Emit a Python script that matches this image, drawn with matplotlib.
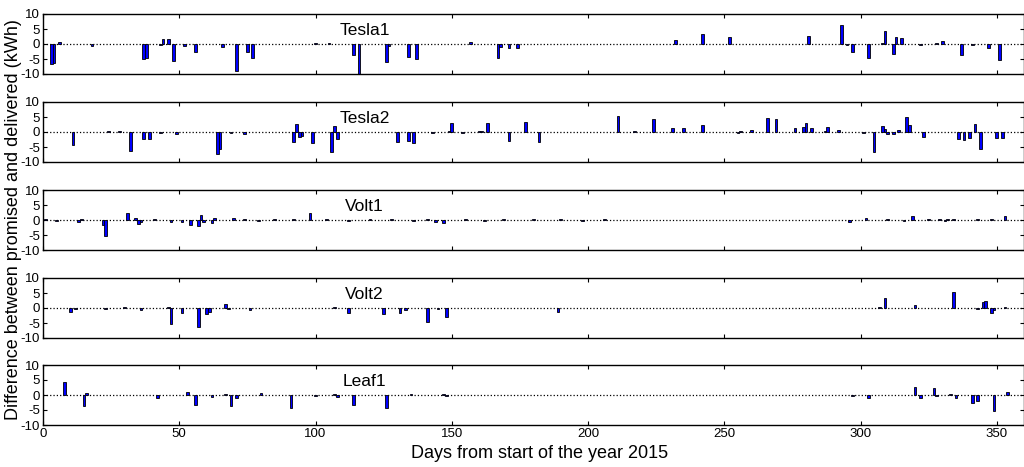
import matplotlib
matplotlib.use('Agg')
import matplotlib.pyplot as plt

plt.rcParams['font.family'] = ['Liberation Sans', 'DejaVu Sans']
plt.rcParams['axes.unicode_minus'] = False

# ---- data (day of year, kWh difference) ----
tesla1_days = [3, 4, 6, 18, 37, 38, 43, 44, 46, 48, 52, 56, 66, 71, 75, 77, 100, 105,
               114, 116, 126, 127, 134, 137, 157, 167, 168, 171, 174,
               232, 242, 252, 281, 293, 295, 297, 303, 308, 309, 312, 313, 315,
               322, 328, 330, 337, 341, 347, 351]
tesla1_vals = [-6.8, -6.2, 0.6, -0.7, -5.0, -4.5, -0.3, 1.6, 1.6, -5.5, -0.6, -2.7, -1.0,
               -9.0, -2.8, -4.5, 0.2, 0.2, -3.5, -11.0, -6.0, -0.8, -4.4, -5.0, 0.7,
               -4.5, -1.0, -1.3, -1.3, 1.5, 3.5, 2.5, 2.8, 6.4, -0.3, -2.5, -4.7, 0.2,
               4.5, -3.3, 2.2, 2.0, -0.2, 0.2, 1.0, -3.7, -0.2, -1.2, -5.2]

tesla2_days = [11, 24, 28, 32, 37, 39, 43, 49, 64, 65, 69, 74, 92, 93, 94, 95, 99,
               106, 107, 108, 130, 134, 136, 143, 149, 150, 154, 160, 161, 163, 171,
               177, 182, 211, 217, 224, 231, 235, 242, 255, 256, 260, 266, 269, 276,
               279, 280, 282, 287, 288, 292, 301, 305, 308, 309, 310, 312, 314, 317,
               318, 323, 336, 338, 340, 342, 344, 350, 352]
tesla2_vals = [-4.2, 0.5, 0.5, -6.3, -2.3, -2.3, -0.2, -0.7, -7.3, -5.5, -0.2, -0.6,
               -3.2, 2.8, -1.8, -1.4, -3.8, -6.5, 2.0, -2.2, -3.4, -3.0, -3.8, -0.2,
               0.3, 3.0, -0.4, 0.4, 0.4, 3.0, -3.0, 3.5, -3.3, 5.2, 0.5, 4.2, 1.4,
               1.4, 2.3, -0.4, 0.3, 0.8, 4.8, 4.5, 1.4, 1.8, 3.0, 1.4, 0.4, 1.7, 0.8,
               -0.2, -6.5, 2.0, 1.0, -0.6, -0.6, 0.6, 5.0, 2.3, -1.8, -2.3, -2.5,
               -1.9, 2.8, -5.5, -2.0, -2.0]

volt1_days = [1, 5, 13, 14, 22, 23, 31, 34, 35, 36, 41, 47, 51, 54, 57, 58, 59, 62,
              63, 70, 74, 79, 85, 92, 98, 104, 112, 120, 128, 136, 141, 144, 147, 155,
              162, 169, 180, 190, 198, 206, 296, 302, 310, 316, 319, 325, 329, 331,
              332, 334, 343, 348, 353]
volt1_vals = [0.3, -0.2, -0.6, 0.5, -1.5, -5.2, 2.2, 0.6, -1.2, -0.7, 0.2, -0.5, -0.5,
              -1.5, -2.0, 1.7, -0.6, -1.0, 0.6, 0.8, 0.2, -0.3, 0.2, 0.2, 2.3, 0.2,
              -0.2, 0.2, 0.2, -0.2, 0.3, -0.6, -1.0, 0.2, -0.2, 0.4, 0.2, 0.2, -0.2,
              0.2, -0.8, 0.7, 0.2, -0.2, 1.3, 0.2, 0.5, -0.3, 0.3, 0.5, 0.2, 0.2, 1.4]

volt2_days = [10, 12, 23, 30, 36, 46, 47, 51, 57, 60, 61, 67, 68, 76, 107, 112, 125,
              131, 133, 141, 145, 148, 189, 307, 309, 320, 334, 343, 345, 346, 348,
              349, 353]
volt2_vals = [-1.2, -0.3, -0.3, 0.3, -0.8, 0.2, -5.3, -1.6, -6.2, -2.0, -1.4, 1.5,
              -0.3, -0.8, 0.5, -1.8, -2.0, -1.7, -0.6, -4.8, -0.3, -3.0, -1.3, 0.3,
              3.2, 1.0, 5.2, -0.3, 2.0, 2.4, -1.6, -0.8, 0.4]

leaf1_days = [8, 15, 16, 42, 53, 56, 62, 67, 69, 71, 80, 91, 100, 107, 108, 114, 126,
              135, 147, 148, 297, 303, 320, 322, 327, 328, 333, 335, 341, 343, 349, 354]
leaf1_vals = [4.5, -3.8, 0.6, -1.1, 1.1, -3.4, -0.8, 0.2, -3.7, -0.9, 0.6, -4.2, -0.4,
              0.2, -0.8, -3.2, -4.2, 0.3, 0.3, -0.2, -0.2, -0.9, 2.7, -1.0, 2.3, -0.3,
              0.2, -1.0, -2.6, -2.1, -5.3, 1.1]

cars = ['Tesla1', 'Tesla2', 'Volt1', 'Volt2', 'Leaf1']
all_days = [tesla1_days, tesla2_days, volt1_days, volt2_days, leaf1_days]
all_vals = [tesla1_vals, tesla2_vals, volt1_vals, volt2_vals, leaf1_vals]

XTICKS = [0, 50, 100, 150, 200, 250, 300, 350]
YTICKS = [-10, -5, 0, 5, 10]

W, H = 1024, 467
LEFT_PX = 43
PANEL_TOPS = [14, 102, 190, 278, 365]
PANEL_H = 60


def draw_panel(ax, name, days, vals, last):
    ax.axhline(0, color='k', linestyle=':', linewidth=0.9, zorder=1)
    ax.bar(days, vals, width=1.0, color='#0000ff', edgecolor='k',
           linewidth=0.6, zorder=2)
    ax.set_xlim(0, 360)
    ax.set_ylim(-10, 10)
    ax.set_yticks(YTICKS)
    ax.set_xticks(XTICKS)
    ax.tick_params(direction='in', top=True, right=True, length=3,
                   labelsize=9.5, pad=2)
    if not last:
        ax.set_xticklabels([])
    ax.text(118, 4.5, name, ha='center', va='center', fontsize=12.5)
    for s in ax.spines.values():
        s.set_linewidth(1.0)


fig = plt.figure(figsize=(W / 100, H / 100), dpi=100)
for i, name in enumerate(cars):
    top = PANEL_TOPS[i]
    ax = fig.add_axes([LEFT_PX / W, 1 - (top + PANEL_H) / H,
                       (W - LEFT_PX) / W, PANEL_H / H])
    draw_panel(ax, name, all_days[i], all_vals[i], i == len(cars) - 1)

# the y label sits right against the tick labels, as in the reference
fig.text(14 / W, 1 - 220 / H, 'Difference between promised and delivered (kWh)',
         rotation=90, ha='center', va='center', fontsize=13)
fig.text(540 / W, 1 - 453 / H, 'Days from start of the year 2015',
         ha='center', va='center', fontsize=13)

fig.savefig('out.png', dpi=100)
